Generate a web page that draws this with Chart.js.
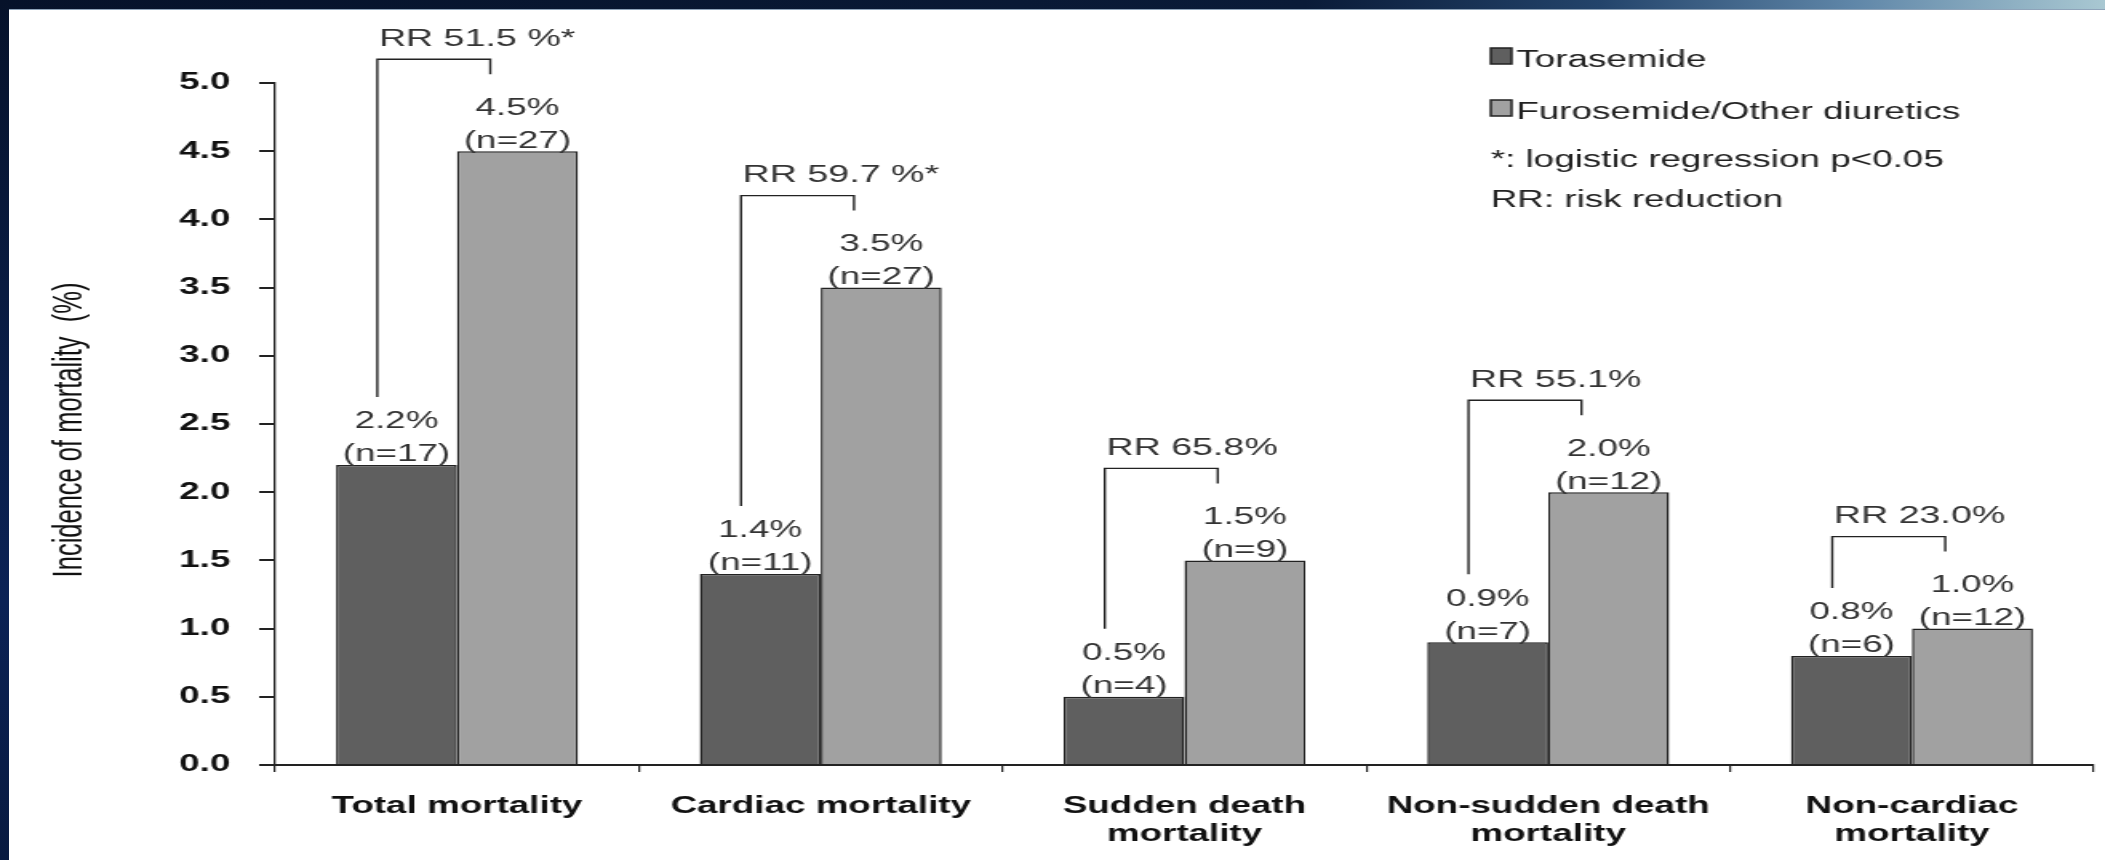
<!DOCTYPE html>
<html>
<head>
<meta charset="utf-8">
<script src="https://cdn.jsdelivr.net/npm/chart.js@4.4.1/dist/chart.umd.min.js"></script>
<style>
  html, body { margin: 0; padding: 0; background: #fff; overflow: hidden; width: 2105px; height: 860px; }
  /* the chart is laid out on a narrower canvas and widened to the slide width */
  #wrap { position: absolute; left: 0; top: 0; width: 1316px; height: 860px;
          transform-origin: 0 0; transform: scaleX(1.59954); filter: blur(0.4px); }
  #topbar { position: absolute; left: 0; top: 0; width: 2105px; height: 9px; z-index: 3;
            background: linear-gradient(90deg, #06122a 0%, #0a1b38 62%, #23446b 76%, #5f86a8 88%, #a9c8d2 100%);
            border-bottom: 1px solid #8ea3b9; }
  #leftbar { position: absolute; left: 0; top: 0; width: 9px; height: 860px; z-index: 3;
             background: linear-gradient(180deg, #06122a 0%, #0a1e48 45%, #0b2255 70%, #081a40 100%); }
</style>
</head>
<body>
<div id="wrap"><canvas id="chart" width="1316" height="860" style="width:1316px;height:860px"></canvas></div>
<div id="topbar"></div>
<div id="leftbar"></div>
<script>
// ---- data ----
const categories = [
  ['Total mortality'],
  ['Cardiac mortality'],
  ['Sudden death', 'mortality'],
  ['Non-sudden death', 'mortality'],
  ['Non-cardiac', 'mortality']
];
const seriesNames = ['Torasemide', 'Furosemide/Other diuretics'];
const torasemide = [2.2, 1.4, 0.5, 0.9, 0.8];
const furosemide = [4.5, 3.5, 1.5, 2.0, 1.0];
const torasemideN = [17, 11, 4, 7, 6];
const furosemideN = [27, 27, 9, 12, 12];
const riskReduction = ['RR 51.5 %*', 'RR 59.7 %*', 'RR 65.8%', 'RR 55.1%', 'RR 23.0%'];
const yTickLabels = ['0.0', '0.5', '1.0', '1.5', '2.0', '2.5', '3.0', '3.5', '4.0', '4.5', '5.0'];
const yTitle = 'Incidence of mortality  (%)';
const notes = ['*: logistic regression p<0.05', 'RR: risk reduction'];

// ---- styling ----
const FONT = "'Liberation Sans', Arial, Helvetica, sans-serif";
const DARK = '#5f5f5f';
const LIGHT = '#a1a1a1';
const INK = '#222';

// value labels, risk-reduction brackets and their captions
const annotations = {
  id: 'annotations',
  afterDatasetsDraw(chart) {
    const ctx = chart.ctx;
    const dark = chart.getDatasetMeta(0).data;
    const light = chart.getDatasetMeta(1).data;
    ctx.save();
    ctx.fillStyle = '#333';
    ctx.font = `23px ${FONT}`;
    ctx.textAlign = 'center';
    ctx.textBaseline = 'middle';
    [[dark, torasemide, torasemideN], [light, furosemide, furosemideN]].forEach(([bars, vals, ns]) => {
      bars.forEach((bar, i) => {
        ctx.fillText(vals[i].toFixed(1) + '%', bar.x, bar.y - 43);
        ctx.fillText('(n=' + ns[i] + ')', bar.x, bar.y - 10);
      });
    });
    ctx.strokeStyle = INK;
    ctx.lineWidth = 1.4;
    ctx.textAlign = 'left';
    ctx.font = `23.5px ${FONT}`;
    categories.forEach((c, i) => {
      const xl = dark[i].x - 12;
      const xr = light[i].x - 17;
      const top = light[i].y - 92;
      ctx.beginPath();
      ctx.moveTo(xl, dark[i].y - 68);
      ctx.lineTo(xl, top);
      ctx.lineTo(xr, top);
      ctx.lineTo(xr, light[i].y - 77);
      ctx.stroke();
      ctx.fillText(riskReduction[i], xl + 1, top - 20);
    });
    ctx.restore();
  }
};

// legend keys and footnotes in the upper right
const legendBlock = {
  id: 'legendBlock',
  afterDraw(chart) {
    const ctx = chart.ctx;
    const x0 = 932, bw = 13, bh = 16;
    const boxTops = [48, 100];
    ctx.save();
    ctx.font = `23px ${FONT}`;
    ctx.textAlign = 'left';
    ctx.textBaseline = 'alphabetic';
    chart.data.datasets.forEach((ds, k) => {
      ctx.fillStyle = ds.backgroundColor;
      ctx.fillRect(x0, boxTops[k], bw, bh);
      ctx.strokeStyle = INK;
      ctx.lineWidth = 1.5;
      ctx.strokeRect(x0, boxTops[k], bw, bh);
      ctx.fillStyle = INK;
      ctx.fillText(ds.label, x0 + bw + 3, boxTops[k] + 19);
    });
    const noteBaselines = [167, 207];
    notes.forEach((t, k) => ctx.fillText(t, x0, noteBaselines[k]));
    ctx.restore();
  }
};

// rotated y-axis title, centred on the plot height
const yAxisTitle = {
  id: 'yAxisTitle',
  afterDraw(chart) {
    const ctx = chart.ctx;
    const area = chart.chartArea;
    ctx.save();
    ctx.translate(44, (area.top + area.bottom) / 2 + 6);
    ctx.rotate(-Math.PI / 2);
    ctx.font = `25.5px ${FONT}`;
    ctx.fillStyle = '#111';
    ctx.textAlign = 'center';
    ctx.textBaseline = 'middle';
    ctx.fillText(yTitle, 0, 0);
    ctx.restore();
  }
};

new Chart(document.getElementById('chart'), {
  type: 'bar',
  data: {
    labels: categories,
    datasets: [
      { label: seriesNames[0], data: torasemide, backgroundColor: DARK, borderColor: INK, borderWidth: 1.5 },
      { label: seriesNames[1], data: furosemide, backgroundColor: LIGHT, borderColor: INK, borderWidth: 1.5 }
    ]
  },
  options: {
    responsive: false,
    animation: false,
    devicePixelRatio: 1,
    layout: { padding: { top: 83, right: 7, left: 0, bottom: 0 } },
    datasets: { bar: { categoryPercentage: 0.665, barPercentage: 1.0 } },
    plugins: { legend: { display: false }, tooltip: { enabled: false } },
    scales: {
      x: {
        grid: { offset: true, drawOnChartArea: false, drawTicks: true, tickLength: 7, color: INK, lineWidth: 1.2 },
        border: { display: true, color: INK, width: 2 },
        ticks: { color: '#111', font: { family: FONT, size: 23, weight: 'bold', lineHeight: 1.22 },
                 padding: 21, maxRotation: 0, autoSkip: false },
        afterFit(scale) { scale.height = 95; }
      },
      y: {
        min: 0, max: 5,
        ticks: { stepSize: 0.5, color: '#111', padding: 18,
                 font: { family: FONT, size: 23, weight: 'bold' },
                 callback: (v, i) => yTickLabels[i] },
        grid: { drawOnChartArea: false, drawTicks: true, tickLength: 10, color: INK, lineWidth: 2 },
        border: { display: true, color: INK, width: 1.3 },
        afterFit(scale) { scale.width = 172; }
      }
    }
  },
  plugins: [annotations, legendBlock, yAxisTitle]
});
</script>
</body>
</html>
